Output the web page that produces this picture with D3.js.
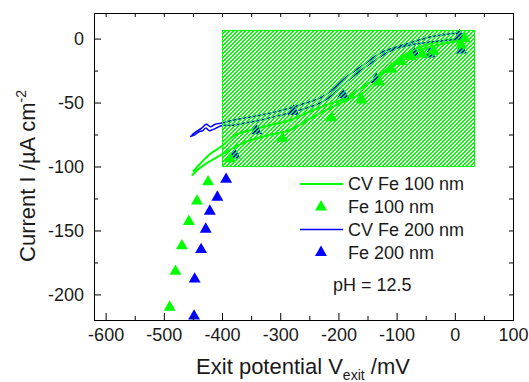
<!DOCTYPE html>
<html>
<head>
<meta charset="utf-8">
<script src="https://cdn.jsdelivr.net/npm/d3@7"></script>
<style>
  body { margin: 0; background: #fff; }
  svg text { font-family: Arial, "Liberation Sans", sans-serif; fill: #1a1a1a; }
</style>
</head>
<body>
<div id="chart"></div>
<script>
// exit potential vs current, Fe films at pH 12.5

// CV Fe 100 nm (loop: forward then back)
var cv100X = [-452, -440, -425, -410, -398, -375, -352, -320, -284, -244, -210, -185, -158, -140, -129, -112, -95, -78, -60, -30, -4, 15,
              -4, -30, -60, -80, -100, -120, -141, -165, -186, -215, -244, -284, -320, -352, -380, -400, -420, -440, -450];
var cv100Y = [-107, -102, -97, -93, -90, -84, -79.5, -75.5, -71.6, -61.3, -53.4, -48, -42.7, -35, -30, -23, -17, -12.5, -9.1, -5, -2.7, -1.5,
              -0.5, -2.5, -6.6, -11, -17, -25, -32.6, -40, -46.6, -51, -56, -63.8, -68, -71.6, -76, -84, -90, -99, -104];

// CV Fe 200 nm
var cv200X = [-455, -448, -440, -433, -428, -422, -415, -408, -400, -381, -360, -335, -310, -284, -260, -232, -210, -186, -165, -141, -120, -100, -70, -43, -15, 8, 12,
              8, -20, -45, -72, -100, -129, -155, -186, -210, -232, -260, -284, -310, -335, -360, -381, -400, -412, -420, -427, -435, -445, -452];
var cv200Y = [-76.5, -75.5, -73, -72, -70, -72, -71, -69.5, -68, -67.7, -66, -63.8, -61, -58.1, -55, -50.5, -44, -33.9, -26, -18.3, -12, -7.6, -4.5, -2.7, -1.5, 0.2, 2,
              4, 3, 1, -2.7, -6.5, -11.5, -20, -30, -40, -46.6, -51, -54.5, -57.5, -59.9, -62, -63.8, -66, -67, -69, -67, -70, -73, -75.5];

// exit potential points
var fe100X = [-490, -480, -469, -457, -443, -424, -386, -296, -212, -160, -130, -109, -92, -75, -56, -36, 11, 17];
var fe100Y = [-210, -182, -162, -143, -127, -112, -94, -78, -62, -48, -34, -24, -18, -14, -12, -10, -5, 0];
var fe200X = [-448, -447, -436, -428, -421, -408, -393, -378, -341, -277, -192, -135, -69, -43, 8, 11];
var fe200Y = [-217, -188, -165, -149, -135, -124, -110, -91, -72, -57, -44, -32, -12, -12, 2, -9];

// hatched region
var boxX = [-400, 35];
var boxY = [-100, 7];

var xMajor = [-600, -500, -400, -300, -200, -100, 0, 100];
var xMinor = [-550, -450, -350, -250, -150, -50, 50];
var yMajor = [-200, -150, -100, -50, 0];
var yMinor = [-175, -125, -75, -25];

var legendLabels = ["CV Fe 100 nm", "Fe 100 nm", "CV Fe 200 nm", "Fe 200 nm"];

var green = "#00ff00", blue = "#0000ff";

var width = 529, height = 382;
var svg = d3.select("#chart").append("svg")
    .attr("width", width)
    .attr("height", height);

var x = d3.scaleLinear().domain([-620, 100]).range([94, 513]);
var y = d3.scaleLinear().domain([-220, 20]).range([320, 13]);

// pixel staircase hatch "/", 2 of every 4 px green
var defs = svg.append("defs");
var pat = defs.append("pattern")
    .attr("id", "hatch")
    .attr("patternUnits", "userSpaceOnUse")
    .attr("width", 4)
    .attr("height", 4);
[0, 1, 2, 3].forEach(function(r) {
    [3 - r, (4 - r) % 4].forEach(function(c) {
        pat.append("rect")
            .attr("x", c).attr("y", r)
            .attr("width", 1).attr("height", 1)
            .attr("fill", green)
            .attr("shape-rendering", "crispEdges");
    });
});

defs.append("clipPath").attr("id", "plotclip")
  .append("rect")
    .attr("x", 94).attr("y", 13)
    .attr("width", 513 - 94).attr("height", 320 - 13);

var plot = svg.append("g").attr("clip-path", "url(#plotclip)");

var line = d3.line()
    .x(function(d) { return x(d[0]); })
    .y(function(d) { return y(d[1]); })
    .curve(d3.curveCatmullRom);

plot.append("path")
    .datum(d3.zip(cv100X, cv100Y))
    .attr("d", line)
    .attr("fill", "none")
    .attr("stroke", green)
    .attr("stroke-width", 2);

plot.append("path")
    .datum(d3.zip(cv200X, cv200Y))
    .attr("d", line)
    .attr("fill", "none")
    .attr("stroke", blue)
    .attr("stroke-width", 1.5);

var tri = d3.symbol().type(d3.symbolTriangle).size(62);

// blue first, green triangles sit on top of them
plot.selectAll(".t200")
    .data(d3.zip(fe200X, fe200Y))
    .enter().append("path")
    .attr("class", "t200")
    .attr("d", tri)
    .attr("transform", function(d) { return "translate(" + x(d[0]) + "," + y(d[1]) + ")"; })
    .attr("fill", blue);

plot.selectAll(".t100")
    .data(d3.zip(fe100X, fe100Y))
    .enter().append("path")
    .attr("class", "t100")
    .attr("d", tri)
    .attr("transform", function(d) { return "translate(" + x(d[0]) + "," + y(d[1]) + ")"; })
    .attr("fill", green);

// hatched box on top of everything
var bx0 = Math.round(x(boxX[0])), by0 = Math.round(y(boxY[1]));
var bx1 = Math.round(x(boxX[1])), by1 = Math.round(y(boxY[0]));
plot.append("rect")
    .attr("x", bx0)
    .attr("y", by0)
    .attr("width", bx1 - bx0)
    .attr("height", by1 - by0)
    .attr("fill", "url(#hatch)")
    .attr("shape-rendering", "crispEdges");
plot.append("rect")
    .attr("x", bx0 + 0.5)
    .attr("y", by0 + 0.5)
    .attr("width", bx1 - bx0 - 1)
    .attr("height", by1 - by0 - 1)
    .attr("fill", "none")
    .attr("stroke", green)
    .attr("stroke-width", 1);

// axes
function styleAxis(g) {
    g.selectAll("path.domain").attr("stroke", "#000").attr("stroke-width", 1);
    g.selectAll(".tick line").attr("stroke", "#000").attr("stroke-width", 1);
    g.selectAll("text").style("font-size", "18px").attr("fill", "#1a1a1a");
}

svg.append("g")
    .attr("transform", "translate(0,320)")
    .call(d3.axisBottom(x).tickValues(xMajor).tickSize(-7).tickSizeOuter(0).tickPadding(8)
        .tickFormat(d3.format("d")))
    .call(styleAxis);
svg.append("g")
    .attr("transform", "translate(0,320)")
    .call(d3.axisBottom(x).tickValues(xMinor).tickSize(-4).tickSizeOuter(0).tickFormat(""))
    .call(styleAxis);
svg.append("g")
    .attr("transform", "translate(0,13)")
    .call(d3.axisTop(x).tickValues(xMajor.concat(xMinor)).tickSize(-4).tickSizeOuter(0).tickFormat(""))
    .call(styleAxis);

svg.append("g")
    .attr("transform", "translate(94,0)")
    .call(d3.axisLeft(y).tickValues(yMajor).tickSize(-7).tickSizeOuter(0).tickPadding(10)
        .tickFormat(d3.format("d")))
    .call(styleAxis);
svg.append("g")
    .attr("transform", "translate(94,0)")
    .call(d3.axisLeft(y).tickValues(yMinor).tickSize(-4).tickSizeOuter(0).tickFormat(""))
    .call(styleAxis);
svg.append("g")
    .attr("transform", "translate(513,0)")
    .call(d3.axisRight(y).tickValues(yMajor.concat(yMinor)).tickSize(-4).tickSizeOuter(0).tickFormat(""))
    .call(styleAxis);

// minus signs in tick labels look like hyphens in the original
svg.selectAll(".tick text").text(function() { return this.textContent.replace("\u2212", "-"); });

// axis titles
var xt = svg.append("text")
    .attr("x", 303)
    .attr("y", 374)
    .attr("text-anchor", "middle")
    .style("font-size", "22px");
xt.append("tspan").text("Exit potential V");
xt.append("tspan").attr("dy", 6).style("font-size", "14px").text("exit");
xt.append("tspan").attr("dy", -6).text(" /mV");

var yt = svg.append("text")
    .attr("transform", "translate(35,176) rotate(-90)")
    .attr("text-anchor", "middle")
    .style("font-size", "22px");
yt.append("tspan").text("Current I /\u00b5A cm");
yt.append("tspan").attr("dy", -9).style("font-size", "14px").text("-2");

// legend
var lg = svg.append("g");
var rowY = [184, 207, 229.5, 252.5];
lg.append("line").attr("x1", 300).attr("x2", 343).attr("y1", rowY[0]).attr("y2", rowY[0])
    .attr("stroke", green).attr("stroke-width", 2);
lg.append("path").attr("d", tri).attr("transform", "translate(321," + rowY[1] + ")").attr("fill", green);
lg.append("line").attr("x1", 300).attr("x2", 343).attr("y1", rowY[2]).attr("y2", rowY[2])
    .attr("stroke", blue).attr("stroke-width", 1.5);
lg.append("path").attr("d", tri).attr("transform", "translate(321," + rowY[3] + ")").attr("fill", blue);

lg.selectAll(".lt")
    .data(legendLabels)
    .enter().append("text")
    .attr("class", "lt")
    .attr("x", 348)
    .attr("y", function(d, i) { return rowY[i] + 6; })
    .style("font-size", "18px")
    .text(function(d) { return d; });

svg.append("text")
    .attr("x", 333)
    .attr("y", 291)
    .style("font-size", "18px")
    .text("pH = 12.5");
</script>
</body>
</html>
